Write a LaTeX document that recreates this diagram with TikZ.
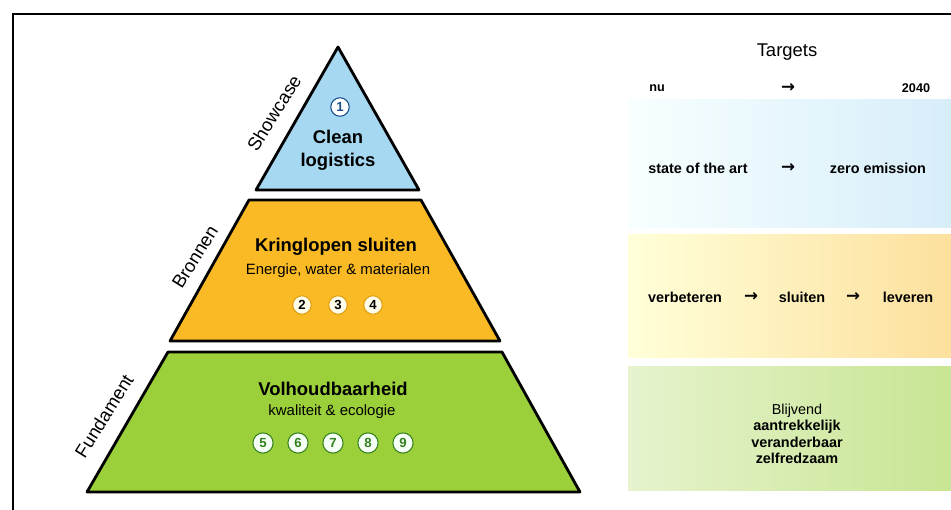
\documentclass[tikz,border=0pt]{standalone}
\usepackage{fontspec}
\setmainfont{Liberation Sans}
\newfontfamily\pijlfont{DejaVu Sans}
\usetikzlibrary{positioning}

\definecolor{topblue}{RGB}{166,216,242}
\definecolor{midorange}{RGB}{249,186,38}
\definecolor{basegreen}{RGB}{155,208,58}
\definecolor{numblue}{RGB}{30,78,140}
\definecolor{numgreen}{RGB}{52,128,30}
\definecolor{numrim}{RGB}{226,160,20}

\begin{document}
\begin{tikzpicture}[x=0.02cm,y=-0.02cm]
\tikzstyle{tier} = [draw=black, line width=1.6pt, line join=round]
\tikzstyle{side} = [font=\fontsize{10.5}{12}\selectfont, rotate=58, anchor=center]
\tikzstyle{num} = [circle, inner sep=0pt, minimum size=10.5pt, line width=0.6pt, font=\fontsize{7.5}{8}\selectfont\bfseries]
\tikzstyle{tgt} = [font=\fontsize{8.2}{9}\selectfont\bfseries, anchor=center]
\tikzstyle{pijl} = [font=\pijlfont\fontsize{9.5}{10}\selectfont\bfseries, anchor=center]

\useasboundingbox (0,0) rectangle (951,510);

% frame
\draw[line width=1.1pt] (951,14) -- (13,14) -- (13,510);

% pyramid
\filldraw[tier, fill=topblue] (338,47) -- (419,190) -- (256,190) -- cycle;
\filldraw[tier, fill=midorange] (249,200) -- (421,200) -- (500,341) -- (170,341) -- cycle;
\filldraw[tier, fill=basegreen] (168,352) -- (502,352) -- (580,492) -- (87,492) -- cycle;

% labels on the left edge
\node[side] (showcase) at (274,113) {Showcase};
\node[side] (bronnen) at (195,257) {Bronnen};
\node[side] (fundament) at (104,416) {Fundament};

% top
\node[num, draw=numblue, fill=white, text=numblue] (n1) at (340,107) {1};
\node[font=\fontsize{10.5}{13}\selectfont\bfseries, align=center] (clean) at (338,150) {Clean\\logistics};

% middle
\node[font=\fontsize{10.5}{12}\selectfont\bfseries] (kring) at (336,247) {Kringlopen sluiten};
\node[font=\fontsize{8.5}{10}\selectfont] (energie) at (338,271) {Energie, water \& materialen};
\foreach \n/\x in {2/302, 3/338, 4/373} {
\node[num, draw=numrim, fill=yellow!8, text=black] (n\n) at (\x,305) {\n};
}

% bottom
\node[font=\fontsize{10.5}{12}\selectfont\bfseries] (volh) at (333,389) {Volhoudbaarheid};
\node[font=\fontsize{8.5}{10}\selectfont] (kwal) at (332,412) {kwaliteit \& ecologie};
\foreach \n/\x in {5/263, 6/298, 7/333, 8/368, 9/403} {
\node[num, minimum size=11.5pt, draw=numgreen, fill=green!4, text=numgreen] (n\n) at (\x,443) {\n};
}

% targets
\node[font=\fontsize{10.5}{12}\selectfont] (targets) at (787,52) {Targets};
\node[tgt, font=\fontsize{7.2}{8}\selectfont\bfseries] (nu) at (657,88) {nu};
\node[pijl] (nuarrow) at (788,88) {→};
\node[tgt, font=\fontsize{7.2}{8}\selectfont\bfseries] (jaar) at (916,88) {2040};

\shade[left color=cyan!3, right color=topblue!45] (628,100) rectangle (951,228);
\shade[left color=yellow!15, right color=midorange!45] (628,235) rectangle (951,357);
\shade[left color=basegreen!25, right color=basegreen!55] (628,366) rectangle (951,490);

\node[tgt] (sota) at (698,168) {state of the art};
\node[pijl] (sotaarrow) at (788,168) {→};
\node[tgt] (zero) at (878,168) {zero emission};

\node[tgt] (verb) at (685,297) {verbeteren};
\node[pijl] (arrow1) at (751,297) {→};
\node[tgt] (sluit) at (802,297) {sluiten};
\node[pijl] (arrow2) at (853,297) {→};
\node[tgt] (lever) at (908,297) {leveren};

\node[tgt, align=center, font=\fontsize{8.2}{9.4}\selectfont\bfseries] (blijvend) at (797,434)
{\mdseries Blijvend\\aantrekkelijk\\veranderbaar\\zelfredzaam};

\end{tikzpicture}
\end{document}
